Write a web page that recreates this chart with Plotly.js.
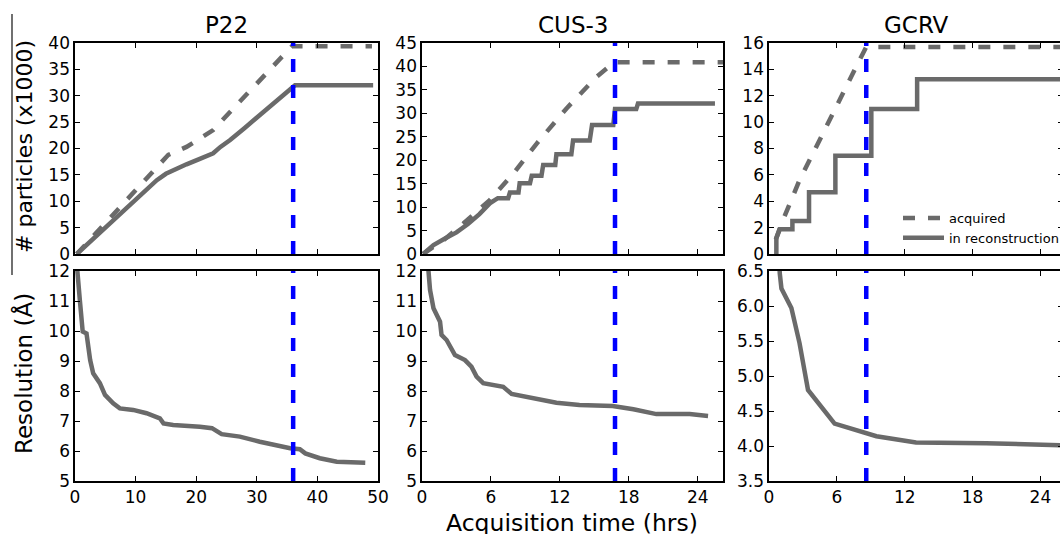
<!DOCTYPE html>
<html>
<head>
<meta charset="utf-8">
<script src="https://cdn.plot.ly/plotly-3.0.1.min.js"></script>
<style>
html,body{margin:0;padding:0;overflow:hidden;background:#fff;width:1060px;height:534px;}
#chart{width:1070px;height:534px;}
</style>
</head>
<body>
<div id="chart"></div>
<script>
// ---------------- DATA ----------------
const panelNames = ["P22", "CUS-3", "GCRV"];
const cutoffHours = [36, 16.8, 8.6];

// P22
const p22AcqTime = [0.3, 2, 4, 6, 8, 10, 12, 14, 15.4, 17, 18.4, 20.5, 22.8, 25, 27, 29, 31, 33, 35.8, 36.5, 49];
const p22Acq     = [0, 2.1, 4.6, 7.1, 9.6, 12.1, 14.6, 17.1, 18.8, 19.6, 20.3, 21.8, 23.5, 26.2, 28.6, 31.1, 33.5, 36.0, 39.4, 39.4, 39.4];
const p22RecTime = [0.3, 2, 4, 6, 8, 10, 12, 13.5, 15, 16.5, 18.4, 20.5, 22.8, 24, 25.6, 28, 30, 32, 34.9, 35.8, 36.3, 49.2];
const p22Rec     = [0, 1.8, 3.8, 5.9, 8.0, 10.1, 12.4, 14.0, 15.2, 16.1, 17.0, 18.0, 19.1, 20.3, 21.6, 23.9, 25.8, 27.7, 30.5, 31.4, 32.0, 32.0];
const p22ResTime = [0.35, 0.4, 0.8, 1.27, 1.9, 2.5, 3.0, 4.1, 4.95, 6.3, 7.4, 9.6, 11.8, 14.0, 14.6, 16.2, 20.6, 22.6, 24.2, 27.2, 30.5, 35.5, 37.1, 38.0, 40.4, 43.2, 47.9];
const p22Res     = [12.6, 11.98, 11.03, 9.98, 9.92, 9.03, 8.59, 8.26, 7.87, 7.59, 7.42, 7.37, 7.26, 7.09, 6.92, 6.87, 6.81, 6.76, 6.56, 6.48, 6.31, 6.09, 6.06, 5.92, 5.76, 5.64, 5.61];

// CUS-3
const cusAcqTime = [0.1, 1, 2, 3.6, 5.9, 8, 10, 12.6, 15.2, 16.4, 16.9, 26.2];
const cusAcq     = [0, 1.5, 3.2, 6.5, 11.5, 17.3, 23.6, 31.1, 37.8, 40.2, 40.9, 40.9];
const cusRecTime = [0.1, 1, 2, 3, 4, 5, 5.9, 6.6, 7.5, 7.65, 8.4, 8.5, 9.4, 9.55, 10.4, 10.55, 11.6, 11.7, 13.0, 13.15, 14.6, 14.8, 16.65, 16.8, 18.65, 18.8, 25.5];
const cusRec     = [0, 1.9, 3.3, 4.6, 6.4, 8.5, 10.8, 11.9, 11.9, 13.1, 13.1, 15.1, 15.1, 16.7, 16.7, 19.0, 19.0, 21.3, 21.3, 24.2, 24.2, 27.5, 27.5, 30.9, 30.9, 32.1, 32.1];
const cusResTime = [0.5, 0.7, 1.0, 1.57, 1.7, 2.14, 2.87, 3.74, 4.3, 4.75, 5.33, 6.5, 7.07, 7.8, 9.4, 11.7, 13.7, 16.6, 18.4, 20.4, 23.3, 24.9];
const cusRes     = [12.3, 11.37, 10.76, 10.31, 9.87, 9.7, 9.2, 9.03, 8.81, 8.48, 8.26, 8.2, 8.14, 7.9, 7.78, 7.61, 7.53, 7.5, 7.39, 7.23, 7.23, 7.17];

// GCRV
const gcrvAcqTime = [0.6, 1.1, 2.7, 4.5, 6.55, 8.0, 8.6, 26];
const gcrvAcq     = [1.1, 2.3, 5.6, 8.6, 12.2, 14.7, 15.7, 15.7];
const gcrvRecTime = [0.65, 0.65, 0.95, 2.07, 2.07, 3.54, 3.54, 5.87, 5.87, 9.05, 9.05, 13.1, 13.1, 26];
const gcrvRec     = [0, 1.2, 1.87, 1.87, 2.5, 2.5, 4.68, 4.68, 7.45, 7.45, 11.0, 11.0, 13.26, 13.26];
const gcrvResTime = [0.9, 0.95, 1.1, 1.98, 2.7, 3.45, 5.8, 8.6, 9.5, 13.0, 19.2, 26];
const gcrvRes     = [6.7, 6.47, 6.25, 5.97, 5.47, 4.8, 4.32, 4.18, 4.14, 4.05, 4.04, 4.01];

// axis settings (ranges / ticks)
const xRanges = [[0, 50], [0, 26.2], [0, 26]];
const xDticks = [10, 6, 6];
const topYRanges = [[0, 40], [0, 45], [0, 16]];
const topYDticks = [5, 5, 2];
const botYRanges = [[5, 12], [5, 12], [3.5, 6.5]];
const botYDticks = [1, 1, 0.5];

const legendNames = ["acquired", "in reconstruction"];
const yTitleTop = "# particles (x1000)";
const yTitleBot = "Resolution (Å)";
const xTitle = "Acquisition time (hrs)";

// ---------------- LAYOUT ----------------
const W = 1070, H = 534;
const px = v => v / W;
const py = v => (H - v) / H;
const colPx = [[75, 378], [422, 723], [769, 1063]];
const topRowPx = [43, 254];
const botRowPx = [271, 481];
const GRAY = "rgb(106,106,106)";
const FONT = "DejaVu Sans";

const acqT = [p22AcqTime, cusAcqTime, gcrvAcqTime];
const acqY = [p22Acq, cusAcq, gcrvAcq];
const recT = [p22RecTime, cusRecTime, gcrvRecTime];
const recY = [p22Rec, cusRec, gcrvRec];
const resT = [p22ResTime, cusResTime, gcrvResTime];
const resY = [p22Res, cusRes, gcrvRes];

const traces = [];
const layout = {
  width: W, height: H,
  margin: {l: 0, r: 0, t: 0, b: 0},
  paper_bgcolor: "#fff", plot_bgcolor: "#fff",
  font: {family: FONT, size: 17, color: "#000"},
  showlegend: true,
  legend: {
    x: px(898), y: py(203), xanchor: "left", yanchor: "top",
    bgcolor: "rgba(0,0,0,0)", borderwidth: 0,
    font: {family: FONT, size: 13, color: "#000"},
    itemwidth: 41, tracegroupgap: 0
  },
  shapes: [], annotations: []
};

function axisCommon(extra) {
  return Object.assign({
    showgrid: false, zeroline: false,
    showline: true, linecolor: "#000", linewidth: 1.6,
    mirror: "ticks", ticks: "inside", ticklen: 5, tickwidth: 1, tickcolor: "#000",
    tickfont: {family: FONT, size: 17, color: "#000"},
    fixedrange: true
  }, extra);
}

for (let i = 0; i < 3; i++) {
  const xt = "x" + (2 * i + 1), yt = "y" + (2 * i + 1);   // top
  const xb = "x" + (2 * i + 2), yb = "y" + (2 * i + 2);   // bottom
  const xtK = "xaxis" + (2 * i + 1), ytK = "yaxis" + (2 * i + 1);
  const xbK = "xaxis" + (2 * i + 2), ybK = "yaxis" + (2 * i + 2);
  const dom = [px(colPx[i][0]), px(colPx[i][1])];

  layout[xtK] = axisCommon({domain: dom, anchor: yt, range: xRanges[i], dtick: xDticks[i], tick0: 0, showticklabels: false});
  layout[ytK] = axisCommon({domain: [py(topRowPx[1]), py(topRowPx[0])], anchor: xt, range: topYRanges[i], dtick: topYDticks[i], tick0: 0});
  layout[xbK] = axisCommon({domain: dom, anchor: yb, range: xRanges[i], dtick: xDticks[i], tick0: 0});
  layout[ybK] = axisCommon({domain: [py(botRowPx[1]), py(botRowPx[0])], anchor: xb, range: botYRanges[i], dtick: botYDticks[i], tick0: 0,
                            tickformat: i === 2 ? ".1f" : ""});

  traces.push({
    type: "scatter", mode: "lines", x: acqT[i], y: acqY[i], xaxis: xt, yaxis: yt,
    line: {color: GRAY, width: 4.5, dash: "12px,13px"},
    name: legendNames[0], showlegend: i === 2, hoverinfo: "skip"
  });
  traces.push({
    type: "scatter", mode: "lines", x: recT[i], y: recY[i], xaxis: xt, yaxis: yt,
    line: {color: GRAY, width: 4.5},
    name: legendNames[1], showlegend: i === 2, hoverinfo: "skip"
  });
  traces.push({
    type: "scatter", mode: "lines", x: resT[i], y: resY[i], xaxis: xb, yaxis: yb,
    line: {color: GRAY, width: 4.5},
    name: "resolution", showlegend: false, hoverinfo: "skip"
  });

  // cutoff vertical lines
  [[xt, yt], [xb, yb]].forEach(([xr, yr]) => {
    layout.shapes.push({
      type: "line", xref: xr, yref: yr + " domain",
      x0: cutoffHours[i], x1: cutoffHours[i], y0: 0, y1: 1,
      line: {color: "#0000ff", width: 4.5, dash: "13px,13px"}
    });
  });

  layout.annotations.push({
    text: panelNames[i], xref: "paper", yref: "paper",
    x: (dom[0] + dom[1]) / 2, y: py(25), xanchor: "center", yanchor: "middle",
    showarrow: false, font: {family: FONT, size: 23, color: "#000"}
  });
}

layout.annotations.push({
  text: yTitleTop, xref: "paper", yref: "paper", x: px(24), y: py(147),
  xanchor: "center", yanchor: "middle", textangle: -90, showarrow: false,
  font: {family: FONT, size: 22, color: "#000"}
});
layout.annotations.push({
  text: yTitleBot, xref: "paper", yref: "paper", x: px(24), y: py(374),
  xanchor: "center", yanchor: "middle", textangle: -90, showarrow: false,
  font: {family: FONT, size: 23, color: "#000"}
});
layout.annotations.push({
  text: xTitle, xref: "paper", yref: "paper", x: px(572), y: py(523),
  xanchor: "center", yanchor: "middle", showarrow: false,
  font: {family: FONT, size: 23.5, color: "#000"}
});
// thin vertical rule at far left of the figure
layout.shapes.push({
  type: "line", xref: "paper", yref: "paper",
  x0: px(12), x1: px(12), y0: py(14), y1: py(275),
  line: {color: "#111", width: 1.2}
});

Plotly.newPlot("chart", traces, layout, {displayModeBar: false, staticPlot: true, responsive: false});
</script>
</body>
</html>
